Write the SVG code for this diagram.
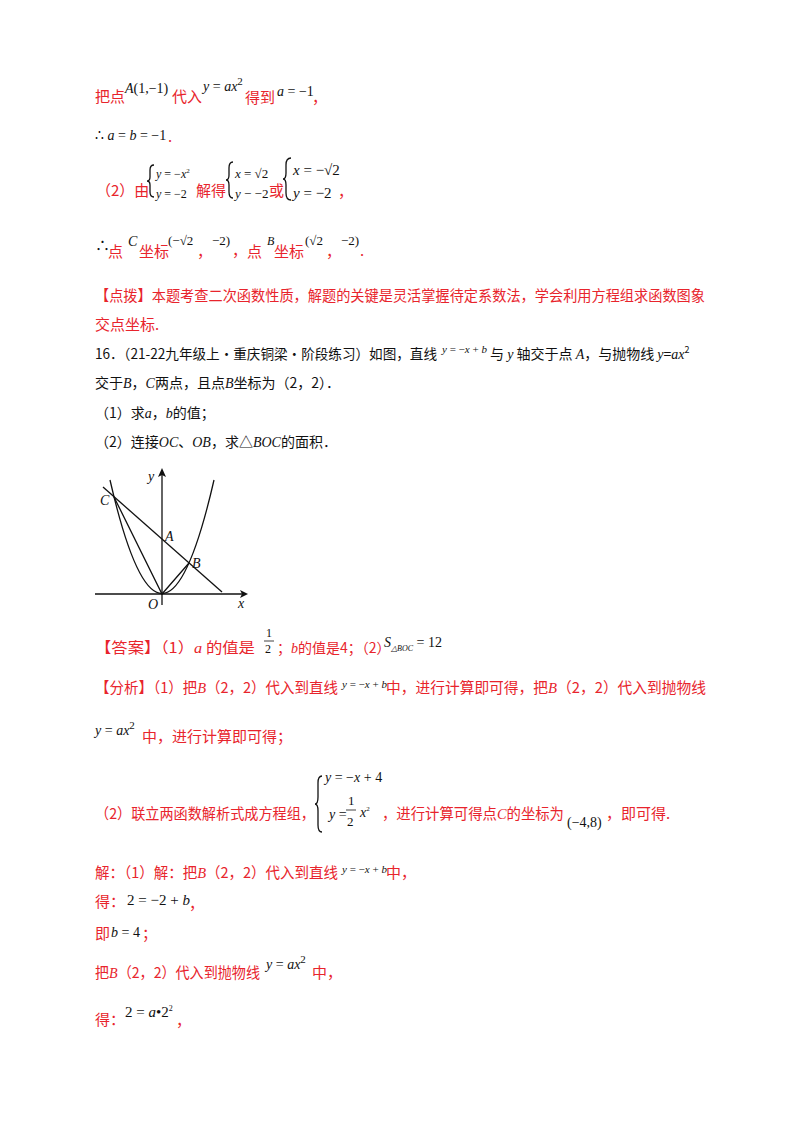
<svg xmlns="http://www.w3.org/2000/svg" width="800" height="1132" viewBox="0 0 800 1132">
<style>
.r{fill:#e8242c;font-family:"Noto Sans CJK SC","Liberation Sans",sans-serif;font-size:15px}
.k{fill:#111;font-family:"Liberation Serif","Noto Sans CJK SC",serif;font-size:15px}
.m{fill:#111;font-family:"Liberation Serif",serif;font-style:italic;font-size:14px}
.n{font-style:normal}
.s{font-size:11px}
.ln{stroke:#111;stroke-width:1.3;fill:none}
</style>
<rect width="800" height="1132" fill="#fff"/>
<g id="text">
<text class="r" x="95" y="102">把点</text><text class="m" x="125" y="93">A<tspan class="n">(1,−1)</tspan></text>
<text class="r" x="172" y="102">代入</text><text class="m" x="203" y="91">y <tspan class="n">=</tspan> ax<tspan class="n s" dy="-6">2</tspan></text>
<text class="r" x="245" y="103">得到</text><text class="m" x="277" y="96">a <tspan class="n">= −1</tspan></text><text class="r" x="312" y="103">，</text>
<text class="m" x="95" y="140"><tspan class="n">∴</tspan> a <tspan class="n">=</tspan> b <tspan class="n">= −1</tspan></text><text class="r" x="168" y="142">.</text>
<text class="r" x="96" y="196">（2）由</text>
<path class="ln" d="M154,165 q-4,0 -4,5 v7 q0,4 -3,4 q3,0 3,4 v7 q0,5 4,5" stroke-width="0.9"/>
<text class="m" x="156" y="178" style="font-size:12px">y <tspan class="n">= −</tspan>x<tspan class="n" dy="-5" style="font-size:7px">2</tspan></text>
<text class="m" x="156" y="198" style="font-size:12px">y <tspan class="n">= −2</tspan></text>
<text class="r" x="196" y="196">解得</text>
<path class="ln" d="M233,162 q-4,0 -4,6 v7 q0,5 -3,5 q3,0 3,5 v7 q0,6 4,6" stroke-width="0.9"/>
<text class="m" x="235" y="178" style="font-size:13px">x <tspan class="n">= √2</tspan></text>
<text class="m" x="235" y="198" style="font-size:13px">y <tspan class="n">− −2</tspan></text>
<text class="r" x="269" y="196">或</text>
<path class="ln" d="M291,158 q-5,0 -5,7 v8 q0,6 -3,6 q3,0 3,6 v8 q0,7 5,7" stroke-width="0.9"/>
<text class="m" x="293" y="175" style="font-size:15px">x <tspan class="n">= −√2</tspan></text>
<text class="m" x="293" y="198" style="font-size:15px">y <tspan class="n">= −2</tspan></text>
<text class="r" x="338" y="197">，</text>
<text class="k" x="95" y="251">∴</text><text class="r" x="108" y="257">点</text><text class="m" x="128" y="246">C</text><text class="r" x="139" y="257">坐标</text>
<text class="k" x="168" y="245" style="font-size:13px">(−√2</text><text class="r" x="197" y="257">，</text><text class="k" x="212" y="245" style="font-size:13px">−2)</text><text class="r" x="232" y="256">，</text>
<text class="r" x="247" y="257">点</text><text class="m" x="267" y="245" style="font-size:12px">B</text><text class="r" x="274" y="257">坐标</text>
<text class="k" x="305" y="245" style="font-size:13px">(√2</text><text class="r" x="326" y="257">，</text><text class="k" x="341" y="245" style="font-size:13px">−2)</text><text class="r" x="360" y="256">.</text>
<text class="r" x="95" y="301" textLength="610" lengthAdjust="spacingAndGlyphs">【点拨】本题考查二次函数性质，解题的关键是灵活掌握待定系数法，学会利用方程组求函数图象</text>
<text class="r" x="95" y="330">交点坐标.</text>
<text class="k" x="95" y="359" textLength="342" lengthAdjust="spacingAndGlyphs" style="font-family:'Noto Sans CJK SC',sans-serif;font-size:14px">16．（21-22九年级上·重庆铜梁·阶段练习）如图，直线</text>
<text class="m" x="442" y="353" style="font-size:11px">y <tspan class="n">= −</tspan>x <tspan class="n">+</tspan> b</text>
<text class="k" x="490" y="359" style="font-family:'Noto Sans CJK SC',sans-serif;font-size:14px">与 <tspan font-family="Liberation Serif" font-style="italic">y</tspan> 轴交于点 <tspan font-family="Liberation Serif" font-style="italic">A</tspan>，与抛物线 <tspan font-family="Liberation Serif" font-style="italic">y</tspan>=<tspan font-family="Liberation Serif" font-style="italic">ax</tspan><tspan dy="-6" style="font-size:9px">2</tspan></text>
<text class="k" x="95" y="388" style="font-family:'Noto Sans CJK SC',sans-serif;font-size:14px">交于<tspan font-family="Liberation Serif" font-style="italic">B</tspan>，<tspan font-family="Liberation Serif" font-style="italic">C</tspan>两点，且点<tspan font-family="Liberation Serif" font-style="italic">B</tspan>坐标为（2，2）．</text>
<text class="k" x="95" y="418" style="font-family:'Noto Sans CJK SC',sans-serif;font-size:14px">（1）求<tspan font-family="Liberation Serif" font-style="italic">a</tspan>，<tspan font-family="Liberation Serif" font-style="italic">b</tspan>的值；</text>
<text class="k" x="95" y="447" style="font-family:'Noto Sans CJK SC',sans-serif;font-size:14px">（2）连接<tspan font-family="Liberation Serif" font-style="italic">OC</tspan>、<tspan font-family="Liberation Serif" font-style="italic">OB</tspan>，求△<tspan font-family="Liberation Serif" font-style="italic">BOC</tspan>的面积．</text>
<text class="r" x="95" y="653" textLength="160" lengthAdjust="spacingAndGlyphs">【答案】（1）<tspan font-family="Liberation Serif" font-style="italic">a</tspan> 的值是</text>
<text class="k" x="266" y="637" style="font-size:12px">1</text><line x1="264" y1="641" x2="274" y2="641" stroke="#111" stroke-width="0.8"/><text class="k" x="265" y="653" style="font-size:12px">2</text>
<text class="r" x="277" y="653" style="font-size:14px">；<tspan font-family="Liberation Serif" font-style="italic">b</tspan>的值是4；（2）</text>
<text class="m" x="384" y="647">S<tspan class="s" dy="4" style="font-size:8px">△BOC</tspan><tspan class="n" dy="-4"> = 12</tspan></text>
<text class="r" x="95" y="693" textLength="243" lengthAdjust="spacingAndGlyphs">【分析】（1）把<tspan font-family="Liberation Serif" font-style="italic">B</tspan>（2，2）代入到直线</text>
<text class="m" x="342" y="688" style="font-size:11px">y <tspan class="n">= −</tspan>x <tspan class="n">+</tspan> b</text>
<text class="r" x="386" y="693" textLength="320" lengthAdjust="spacingAndGlyphs">中，进行计算即可得，把<tspan font-family="Liberation Serif" font-style="italic">B</tspan>（2，2）代入到抛物线</text>
<text class="m" x="95" y="735">y <tspan class="n">=</tspan> ax<tspan class="n s" dy="-6">2</tspan></text>
<text class="r" x="142" y="742">中，进行计算即可得；</text>
<text class="r" x="95" y="819" textLength="220" lengthAdjust="spacingAndGlyphs">（2）联立两函数解析式成方程组，</text>
<path class="ln" d="M322,776 q-4,0 -4,7 v14 q0,7 -3,7 q3,0 3,7 v14 q0,7 4,7" stroke-width="0.9"/>
<text class="m" x="325" y="782">y <tspan class="n">= −</tspan>x <tspan class="n">+ 4</tspan></text>
<text class="m" x="329" y="819">y <tspan class="n">=</tspan></text>
<text class="k" x="348" y="805" style="font-size:13px">1</text><line x1="346" y1="810" x2="356" y2="810" stroke="#111" stroke-width="0.8"/><text class="k" x="347" y="826" style="font-size:13px">2</text>
<text class="m" x="360" y="817">x<tspan class="n" dy="-6" style="font-size:7px">2</tspan></text>
<text class="r" x="382" y="819" textLength="182" lengthAdjust="spacingAndGlyphs">，进行计算可得点<tspan font-family="Liberation Serif" font-style="italic">C</tspan>的坐标为</text>
<text class="k" x="567" y="827" style="font-size:14px">(−4,8)</text>
<text class="r" x="606" y="819">，即可得.</text>
<text class="r" x="95" y="878" textLength="243" lengthAdjust="spacingAndGlyphs">解：（1）解：把<tspan font-family="Liberation Serif" font-style="italic">B</tspan>（2，2）代入到直线</text>
<text class="m" x="342" y="873" style="font-size:11px">y <tspan class="n">= −</tspan>x <tspan class="n">+</tspan> b</text>
<text class="r" x="386" y="878">中，</text>
<text class="r" x="95" y="907">得：</text><text class="k" x="127" y="905">2 = −2 + <tspan font-style="italic">b</tspan></text><text class="r" x="189" y="909">，</text>
<text class="r" x="95" y="939">即</text><text class="m" x="111" y="937">b <tspan class="n">= 4</tspan></text><text class="r" x="142" y="939">；</text>
<text class="r" x="95" y="978" textLength="165" lengthAdjust="spacingAndGlyphs">把<tspan font-family="Liberation Serif" font-style="italic">B</tspan>（2，2）代入到抛物线</text>
<text class="m" x="266" y="969">y <tspan class="n">=</tspan> ax<tspan class="n s" dy="-6">2</tspan></text>
<text class="r" x="312" y="978">中，</text>
<text class="r" x="95" y="1025">得：</text><text class="k" x="125" y="1017">2 = <tspan font-style="italic">a</tspan>•2<tspan dy="-6" style="font-size:8px">2</tspan></text><text class="r" x="176" y="1026">，</text>
</g>
<g id="graph">
<line class="ln" x1="95" y1="594" x2="242" y2="594"/>
<path d="M248,594 l-8,-4 l2,4 l-2,4z" fill="#111"/>
<line class="ln" x1="162" y1="605" x2="162" y2="475"/>
<path d="M162,468 l-4,9 l4,-2 l4,2z" fill="#111"/>
<path class="ln" d="M110,480 Q162,707 214,480"/>
<line class="ln" x1="103" y1="487" x2="222" y2="592"/>
<path class="ln" d="M114,497 L162,594 L189,563"/>
<text class="m" x="148" y="481">y</text>
<text class="m" x="238" y="608">x</text>
<text class="m" x="148" y="609">O</text>
<text class="m" x="100" y="505">C</text>
<text class="m" x="165" y="541">A</text>
<text class="m" x="192" y="568">B</text>
</g>
</svg>
